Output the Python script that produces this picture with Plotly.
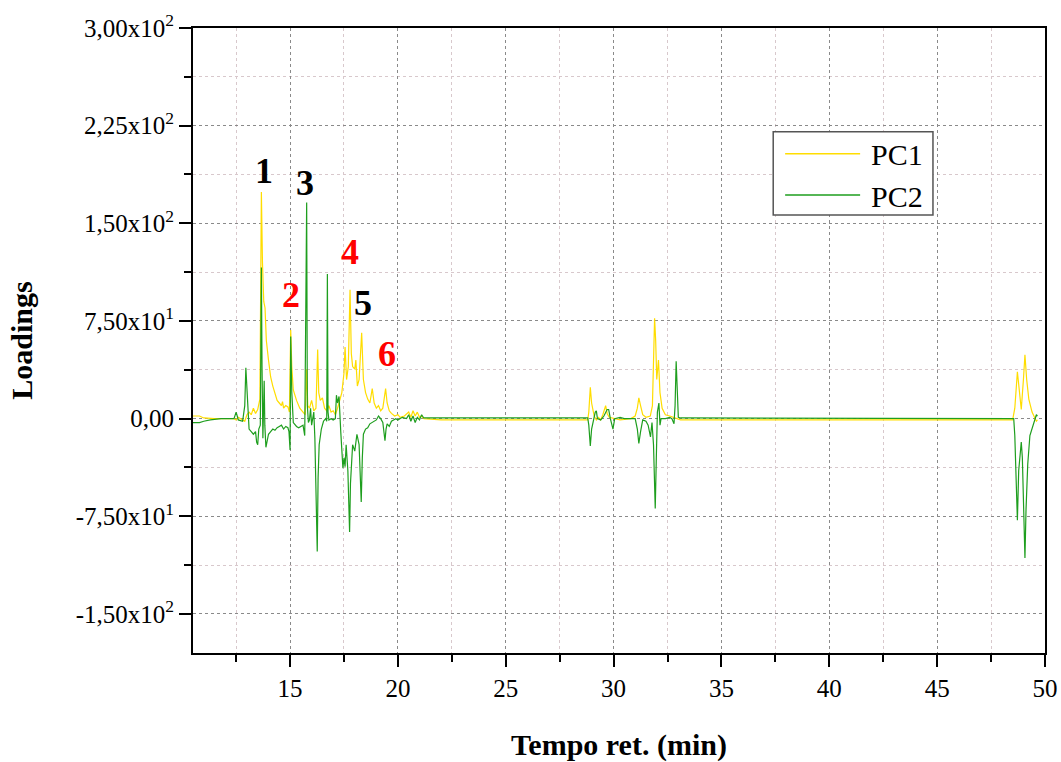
import plotly.graph_objects as go

# ---------------- data ----------------
pc1_time = [10.5, 10.8, 11.0, 11.5, 12.4, 12.5, 12.6, 12.9, 13.0, 13.1, 13.2, 13.3, 13.4, 13.5, 13.6,
            13.67, 13.72, 13.78, 13.84, 13.9, 14.0, 14.1, 14.2, 14.3, 14.4, 14.5, 14.6, 14.65, 14.7, 14.8,
            14.9, 14.97, 15.03, 15.08, 15.15, 15.3, 15.45, 15.6, 15.7, 15.77, 15.82, 15.9, 16.0, 16.1,
            16.2, 16.28, 16.33, 16.4, 16.5, 16.6, 16.7, 16.8, 16.9, 17.0, 17.1, 17.2, 17.3, 17.4, 17.5,
            17.55, 17.62, 17.7, 17.78, 17.84, 17.9, 18.0, 18.05, 18.12, 18.2, 18.32, 18.4, 18.5, 18.6,
            18.7, 18.81, 18.9, 19.0, 19.1, 19.2, 19.3, 19.43, 19.5, 19.6, 19.7, 19.85, 20.0, 20.1, 20.3,
            20.5, 20.6, 20.7, 20.8, 20.9, 21.0, 21.1, 21.2, 22.0, 28.8, 28.85, 28.92, 28.98, 29.05, 29.1,
            29.2, 29.3, 29.4, 29.5, 29.63, 29.7, 29.8, 30.0, 30.3, 30.8, 31.0, 31.1, 31.17, 31.25, 31.35,
            31.5, 31.7, 31.8, 31.9, 31.95, 32.0, 32.08, 32.15, 32.25, 32.4, 32.6, 32.8, 33.0, 33.1, 48.5,
            48.6, 48.72, 48.8, 48.9, 49.0, 49.07, 49.15, 49.25, 49.4, 49.6, 49.65]
pc1_loading = [2, 2, 0.5, 0, 0, -1, 1, -2, 3, 5, 3, 8, 4, 7, 15,
               174, 120, 90, 85, 60, 45, 32, 25, 20, 14, 12, 10, 13, 8, 10,
               9, 5, 68, 40, 22, 14, 8, 5, 3, 38, 10, 8, 14, 6,
               8, 53, 20, 14, 16, 8, 6, 10, 5, 6, 3, 8, 15, 20, 35,
               55, 30, 40, 99, 50, 40, 38, 45, 25, 30, 66, 30, 20, 15,
               12, 23, 12, 8, 10, 6, 8, 23, 12, 6, 4, 2, 3, 1, 2,
               5, 1, 6, 2, 5, 1, 2, 0, -1, -1, 5, 24, 12, 5, 2,
               -1, 1, -1, 3, 10, 4, 1, 0, -1, 0, 2, 8, 16, 10, 3,
               1, 2, 10, 77, 60, 30, 45, 20, 8, 3, 2, 1, 0, -1, -1,
               8, 36, 25, 7, 30, 49, 30, 15, 5, -2, -1]

pc2_time = [10.5, 10.8, 11.0, 11.3, 11.8, 12.4, 12.5, 12.55, 12.6, 12.8, 12.9, 12.95, 13.0, 13.05, 13.1,
            13.2, 13.3, 13.4, 13.45, 13.5, 13.55, 13.62, 13.67, 13.7, 13.74, 13.8, 13.83, 13.88, 13.95,
            14.0, 14.1, 14.2, 14.3, 14.4, 14.5, 14.6, 14.7, 14.8, 14.9, 14.95, 15.0, 15.03, 15.08, 15.15,
            15.3, 15.4, 15.5, 15.6, 15.68, 15.72, 15.77, 15.8, 15.85, 15.9, 15.95, 16.0, 16.05, 16.1,
            16.15, 16.22, 16.26, 16.3, 16.35, 16.45, 16.55, 16.65, 16.7, 16.73, 16.76, 16.8, 16.9, 17.0,
            17.1, 17.15, 17.2, 17.27, 17.3, 17.35, 17.45, 17.5, 17.55, 17.6, 17.68, 17.72, 17.76, 17.8,
            17.85, 17.9, 18.0, 18.1, 18.2, 18.3, 18.35, 18.4, 18.5, 18.6, 18.7, 18.8, 18.9, 19.0, 19.1,
            19.2, 19.3, 19.4, 19.45, 19.5, 19.6, 19.7, 19.8, 19.9, 20.0, 20.2, 20.4, 20.5, 20.6, 20.7,
            20.8, 20.9, 21.0, 21.1, 21.2, 28.8, 28.85, 28.92, 28.98, 29.05, 29.15, 29.2, 29.25, 29.4,
            29.55, 29.7, 29.77, 29.85, 29.97, 30.05, 30.3, 30.5, 31.0, 31.1, 31.17, 31.25, 31.35, 31.5,
            31.6, 31.71, 31.78, 31.85, 31.93, 31.98, 32.03, 32.1, 32.15, 32.2, 32.4, 32.6, 32.7, 32.8,
            32.85, 32.9, 32.95, 33.0, 33.1, 48.5, 48.55, 48.6, 48.66, 48.72, 48.78, 48.85, 48.9, 48.95,
            49.0, 49.07, 49.12, 49.2, 49.3, 49.4, 49.5, 49.6, 49.65]
pc2_loading = [-3, -3, -2, -1, 0, 0, 5, 2, -1, -2, 10, 39, 25, 5, -8,
               -10, -12, -10, -18, -20, -8, -5, 116, 40, -15, 29, -5, -22, -15,
               -12, -10, -8, -9, -7, -6, -5, -8, -6, -7, -10, -24, 63, 20, -3,
               -6, -7, -6, -5, -13, 50, 166, 10, -3, -1, 8, -5, 2, 5,
               -15, -60, -102, -45, -20, -8, -2, 0, -2, 111, 5, -1, 0, -1,
               0, 18, 12, 17, 5, -10, -38, -30, -37, -20, -40, -60, -87, -50,
               -30, -20, -25, -12, -20, -64, -30, -12, -8, -7, -4, -3, -2, -1, 2,
               0, -3, -17, -8, -4, -6, -2, -1, 0, -1, 1, 0, 3, -2, 2,
               -3, 1, -1, 3, 0.5, 0.5, -5, -21, -8, -3, 5, 6, 0, -1,
               2, 7, 7, 0, -8, 0, 1, 0, 0, -8, -19, -10, -1, -2,
               -5, -14, -3, -20, -69, -30, 5, 12, -5, 0, 0, 1, 0, -4,
               10, 44, 20, 1, 0.5, 0.5, 0, -13, -40, -78, -40, -25, -18, -30,
               -70, -107, -70, -35, -13, -8, -3, 3, 2]

ytick_vals = [-150, -75, 0, 75, 150, 225, 300]
ytick_text = ["-1,50x10<sup>2</sup>", "-7,50x10<sup>1</sup>", "0,00", "7,50x10<sup>1</sup>",
              "1,50x10<sup>2</sup>", "2,25x10<sup>2</sup>", "3,00x10<sup>2</sup>"]
xtick_vals = [15, 20, 25, 30, 35, 40, 45, 50]

peak_names = ["1", "2", "3", "4", "5", "6"]
peak_time = [13.8, 15.05, 15.7, 17.78, 18.38, 19.5]
peak_level = [190, 95, 181, 128, 89, 50]
peak_colors = ["black", "red", "black", "red", "black", "red"]

series_names = ["PC1", "PC2"]

# ---------------- figure ----------------
FONT = "Liberation Serif, Times New Roman, serif"
YELLOW = "#FFDD00"
GREEN = "#1E9E1E"
series_colors = [YELLOW, GREEN]

fig = go.Figure()
fig.add_trace(go.Scatter(x=pc1_time, y=pc1_loading, mode="lines", name=series_names[0],
                         line=dict(color=YELLOW, width=1.2), showlegend=False))
fig.add_trace(go.Scatter(x=pc2_time, y=pc2_loading, mode="lines", name=series_names[1],
                         line=dict(color=GREEN, width=1.2), showlegend=False))

for name, t, v, c in zip(peak_names, peak_time, peak_level, peak_colors):
    fig.add_annotation(x=t, y=v, text=name, showarrow=False,
                       font=dict(family=FONT, size=36, color=c, weight="bold"))

# legend box drawn in paper coordinates
fig.add_shape(type="rect", xref="paper", yref="paper", x0=0.681, x1=0.8685, y0=0.701, y1=0.834,
              line=dict(color="#555555", width=1.5), fillcolor="white", layer="above")
legend_rows = [0.799, 0.733]
for nm, col, yy in zip(series_names, series_colors, legend_rows):
    fig.add_shape(type="line", xref="paper", yref="paper", x0=0.695, x1=0.783, y0=yy, y1=yy,
                  line=dict(color=col, width=1.5), layer="above")
    fig.add_annotation(xref="paper", yref="paper", x=0.794, y=yy - 0.002, text=nm,
                       showarrow=False, xanchor="left", yanchor="middle",
                       font=dict(family=FONT, size=30, color="black"))

axis_common = dict(
    showline=True, linecolor="black", linewidth=2, mirror=True,
    ticks="outside", ticklen=12, tickwidth=2, tickcolor="black",
    showgrid=True, gridcolor="#8a8a8a", griddash="dot", gridwidth=1,
    zeroline=False, automargin=False, ticklabeloverflow="allow",
    tickfont=dict(family=FONT, size=25, color="black"),
)

fig.update_layout(
    width=1061, height=762,
    margin=dict(l=193, r=16, t=28, b=109),
    paper_bgcolor="white", plot_bgcolor="white",
    showlegend=False,
    xaxis=dict(range=[10.5, 50], tickvals=xtick_vals,
               minor=dict(dtick=2.5, tick0=12.5, ticks="outside", ticklen=7, tickwidth=2,
                          tickcolor="black", showgrid=True, gridcolor="#d8c8cc",
                          griddash="dot", gridwidth=1),
               title=dict(text="Tempo ret. (min)", standoff=34,
                          font=dict(family=FONT, size=30, color="black", weight="bold")),
               **axis_common),
    yaxis=dict(range=[-180, 300], tickvals=ytick_vals, ticktext=ytick_text,
               minor=dict(dtick=37.5, tick0=0, ticks="outside", ticklen=7, tickwidth=2,
                          tickcolor="black", showgrid=True, gridcolor="#d8c8cc",
                          griddash="dot", gridwidth=1),
               title=dict(text="Loadings", standoff=34,
                          font=dict(family=FONT, size=30, color="black", weight="bold")),
               **axis_common),
)

fig.write_html("out.html", config={"displayModeBar": False},
               post_script="document.body.style.margin='0px';")
